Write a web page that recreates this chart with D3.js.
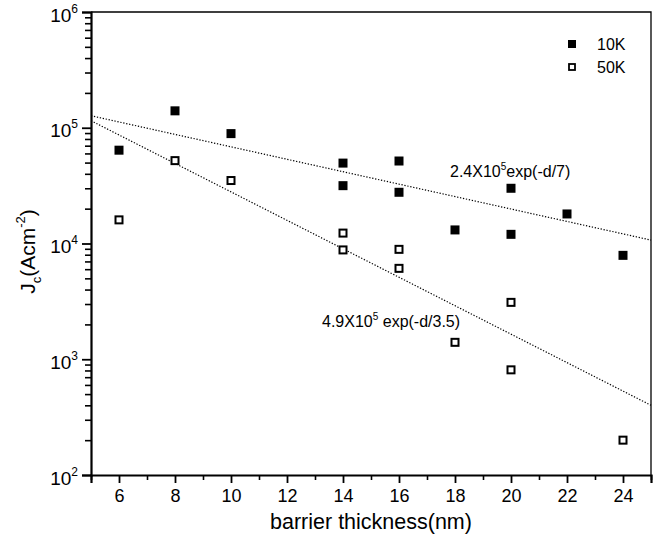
<!DOCTYPE html>
<html>
<head>
<meta charset="utf-8">
<script src="https://cdn.jsdelivr.net/npm/d3@7"></script>
<style>
  body { margin: 0; background: #fff; }
  text { font-family: "Liberation Sans", Arial, sans-serif; fill: #000; }
</style>
</head>
<body>
<script>
// data
const thick10K = [6, 8, 10, 14, 14, 16, 16, 18, 20, 20, 22, 24];
const jc10K = [64000, 140000, 89000, 49500, 31600, 51600, 27700, 13100, 30000, 12000, 18000, 7900];
const thick50K = [6, 8, 10, 14, 14, 16, 16, 18, 20, 20, 24];
const jc50K = [16000, 52000, 35000, 12300, 8800, 8900, 6100, 1400, 3100, 810, 200];
// dotted fit lines, end points as drawn
const fitThick = [5, 25];
const fit10K = [127000, 10700];
const fit50K = [115000, 400];
const xTicks = [6, 8, 10, 12, 14, 16, 18, 20, 22, 24];
const xMinor = [5, 7, 9, 11, 13, 15, 17, 19, 21, 23, 25];
const yExponents = [2, 3, 4, 5, 6];
const seriesNames = ["10K", "50K"];

const width = 665, height = 546;
const margin = {top: 12, right: 14, bottom: 71, left: 91};
const plotW = width - margin.left - margin.right;
const plotH = height - margin.top - margin.bottom;

const svg = d3.select("body").append("svg")
    .attr("width", width)
    .attr("height", height);

const g = svg.append("g")
    .attr("transform", `translate(${margin.left},${margin.top})`);

const x = d3.scaleLinear().domain([5, 25]).range([0, plotW]);
const y = d3.scaleLog().domain([100, 1e6]).range([plotH, 0]);

// frame (top and right)
g.append("path")
    .attr("d", `M0,0H${plotW}V${plotH}`)
    .attr("fill", "none")
    .attr("stroke", "#000")
    .attr("stroke-width", 1.3);

// minor y ticks 2..9 in every decade
const yMinor = [];
yExponents.slice(0, -1).forEach(e => {
    for (let k = 2; k <= 9; ++k) yMinor.push(k * Math.pow(10, e));
});

g.append("g")
    .call(d3.axisLeft(y).tickValues(yMinor).tickSize(6).tickFormat(""))
    .call(a => a.select(".domain").remove())
    .selectAll("line").attr("stroke-width", 1.6);

const yAxis = g.append("g")
    .call(d3.axisLeft(y)
        .tickValues(yExponents.map(e => Math.pow(10, e)))
        .tickSize(9)
        .tickPadding(4)
        .tickFormat(""));
yAxis.select(".domain").attr("stroke-width", 2.2);
yAxis.selectAll(".tick line").attr("stroke-width", 1.8);
yAxis.selectAll(".tick text")
    .attr("font-size", 19)
    .attr("dy", 9)
    .each(function(d) {
        const t = d3.select(this);
        t.append("tspan").text("10");
        t.append("tspan")
            .attr("font-size", 12)
            .attr("dy", -9)
            .text(Math.round(Math.log10(d)));
    });

// x axis
g.append("g")
    .attr("transform", `translate(0,${plotH})`)
    .call(d3.axisBottom(x).tickValues(xMinor).tickSize(5).tickFormat(""))
    .call(a => a.select(".domain").remove())
    .selectAll("line").attr("stroke-width", 1.6);

const xAxis = g.append("g")
    .attr("transform", `translate(0,${plotH})`)
    .call(d3.axisBottom(x).tickValues(xTicks).tickSize(8).tickPadding(6));
xAxis.select(".domain").attr("stroke-width", 2.2);
xAxis.selectAll(".tick text").attr("font-size", 18);
xAxis.selectAll(".tick line").attr("stroke-width", 1.8);

// axis titles
svg.append("text")
    .attr("x", margin.left + plotW / 2)
    .attr("y", 529)
    .attr("text-anchor", "middle")
    .attr("font-size", 21.5)
    .text("barrier thickness(nm)");

const yTitle = svg.append("text")
    .attr("transform", `translate(35,${margin.top + plotH / 2 + 8}) rotate(-90)`)
    .attr("text-anchor", "middle")
    .attr("font-size", 21);
yTitle.append("tspan").text("J");
yTitle.append("tspan").attr("font-size", 13).attr("dy", 6).text("c");
yTitle.append("tspan").attr("dy", -6).text("(Acm");
yTitle.append("tspan").attr("font-size", 13).attr("dy", -10).text("-2");
yTitle.append("tspan").attr("dy", 10).text(")");

// fit lines
const line = d3.line()
    .x(d => x(d[0]))
    .y(d => y(d[1]));

[fit10K, fit50K].forEach(fit => {
    g.append("path")
        .datum(fitThick.map((t, i) => [t, fit[i]]))
        .attr("d", line)
        .attr("fill", "none")
        .attr("stroke", "#000")
        .attr("stroke-width", 1.2)
        .attr("stroke-dasharray", "1.3,1.7");
});

// markers
const size = 9;
g.selectAll(".m10")
    .data(thick10K.map((t, i) => [t, jc10K[i]]))
    .join("rect")
    .attr("class", "m10")
    .attr("x", d => x(d[0]) - size / 2)
    .attr("y", d => y(d[1]) - size / 2)
    .attr("width", size)
    .attr("height", size)
    .attr("fill", "#000");

g.selectAll(".m50")
    .data(thick50K.map((t, i) => [t, jc50K[i]]))
    .join("rect")
    .attr("class", "m50")
    .attr("x", d => x(d[0]) - size / 2 + 1)
    .attr("y", d => y(d[1]) - size / 2 + 1)
    .attr("width", size - 2)
    .attr("height", size - 2)
    .attr("fill", "#fff")
    .attr("stroke", "#000")
    .attr("stroke-width", 2);

// fit labels
function fitLabel(px, py, pre, post) {
    const t = g.append("text")
        .attr("x", px - margin.left)
        .attr("y", py - margin.top)
        .attr("font-size", 16);
    t.append("tspan").text(pre);
    t.append("tspan").attr("font-size", 10).attr("dy", -7).text("5");
    t.append("tspan").attr("dy", 7).text(post);
}
fitLabel(450, 177, "2.4X10", "exp(-d/7)");
fitLabel(322, 327, "4.9X10", " exp(-d/3.5)");

// legend
const legend = g.append("g")
    .attr("transform", `translate(${572 - margin.left},${44 - margin.top})`);
seriesNames.forEach((name, i) => {
    const row = legend.append("g").attr("transform", `translate(0,${i * 23})`);
    if (i === 0) {
        row.append("rect").attr("x", -4).attr("y", -4).attr("width", 8).attr("height", 8).attr("fill", "#000");
    } else {
        row.append("rect").attr("x", -3).attr("y", -3).attr("width", 6).attr("height", 6)
            .attr("fill", "#fff").attr("stroke", "#000").attr("stroke-width", 1.8);
    }
    row.append("text")
        .attr("x", 25)
        .attr("y", 5.5)
        .attr("font-size", 16)
        .text(name);
});
</script>
</body>
</html>
